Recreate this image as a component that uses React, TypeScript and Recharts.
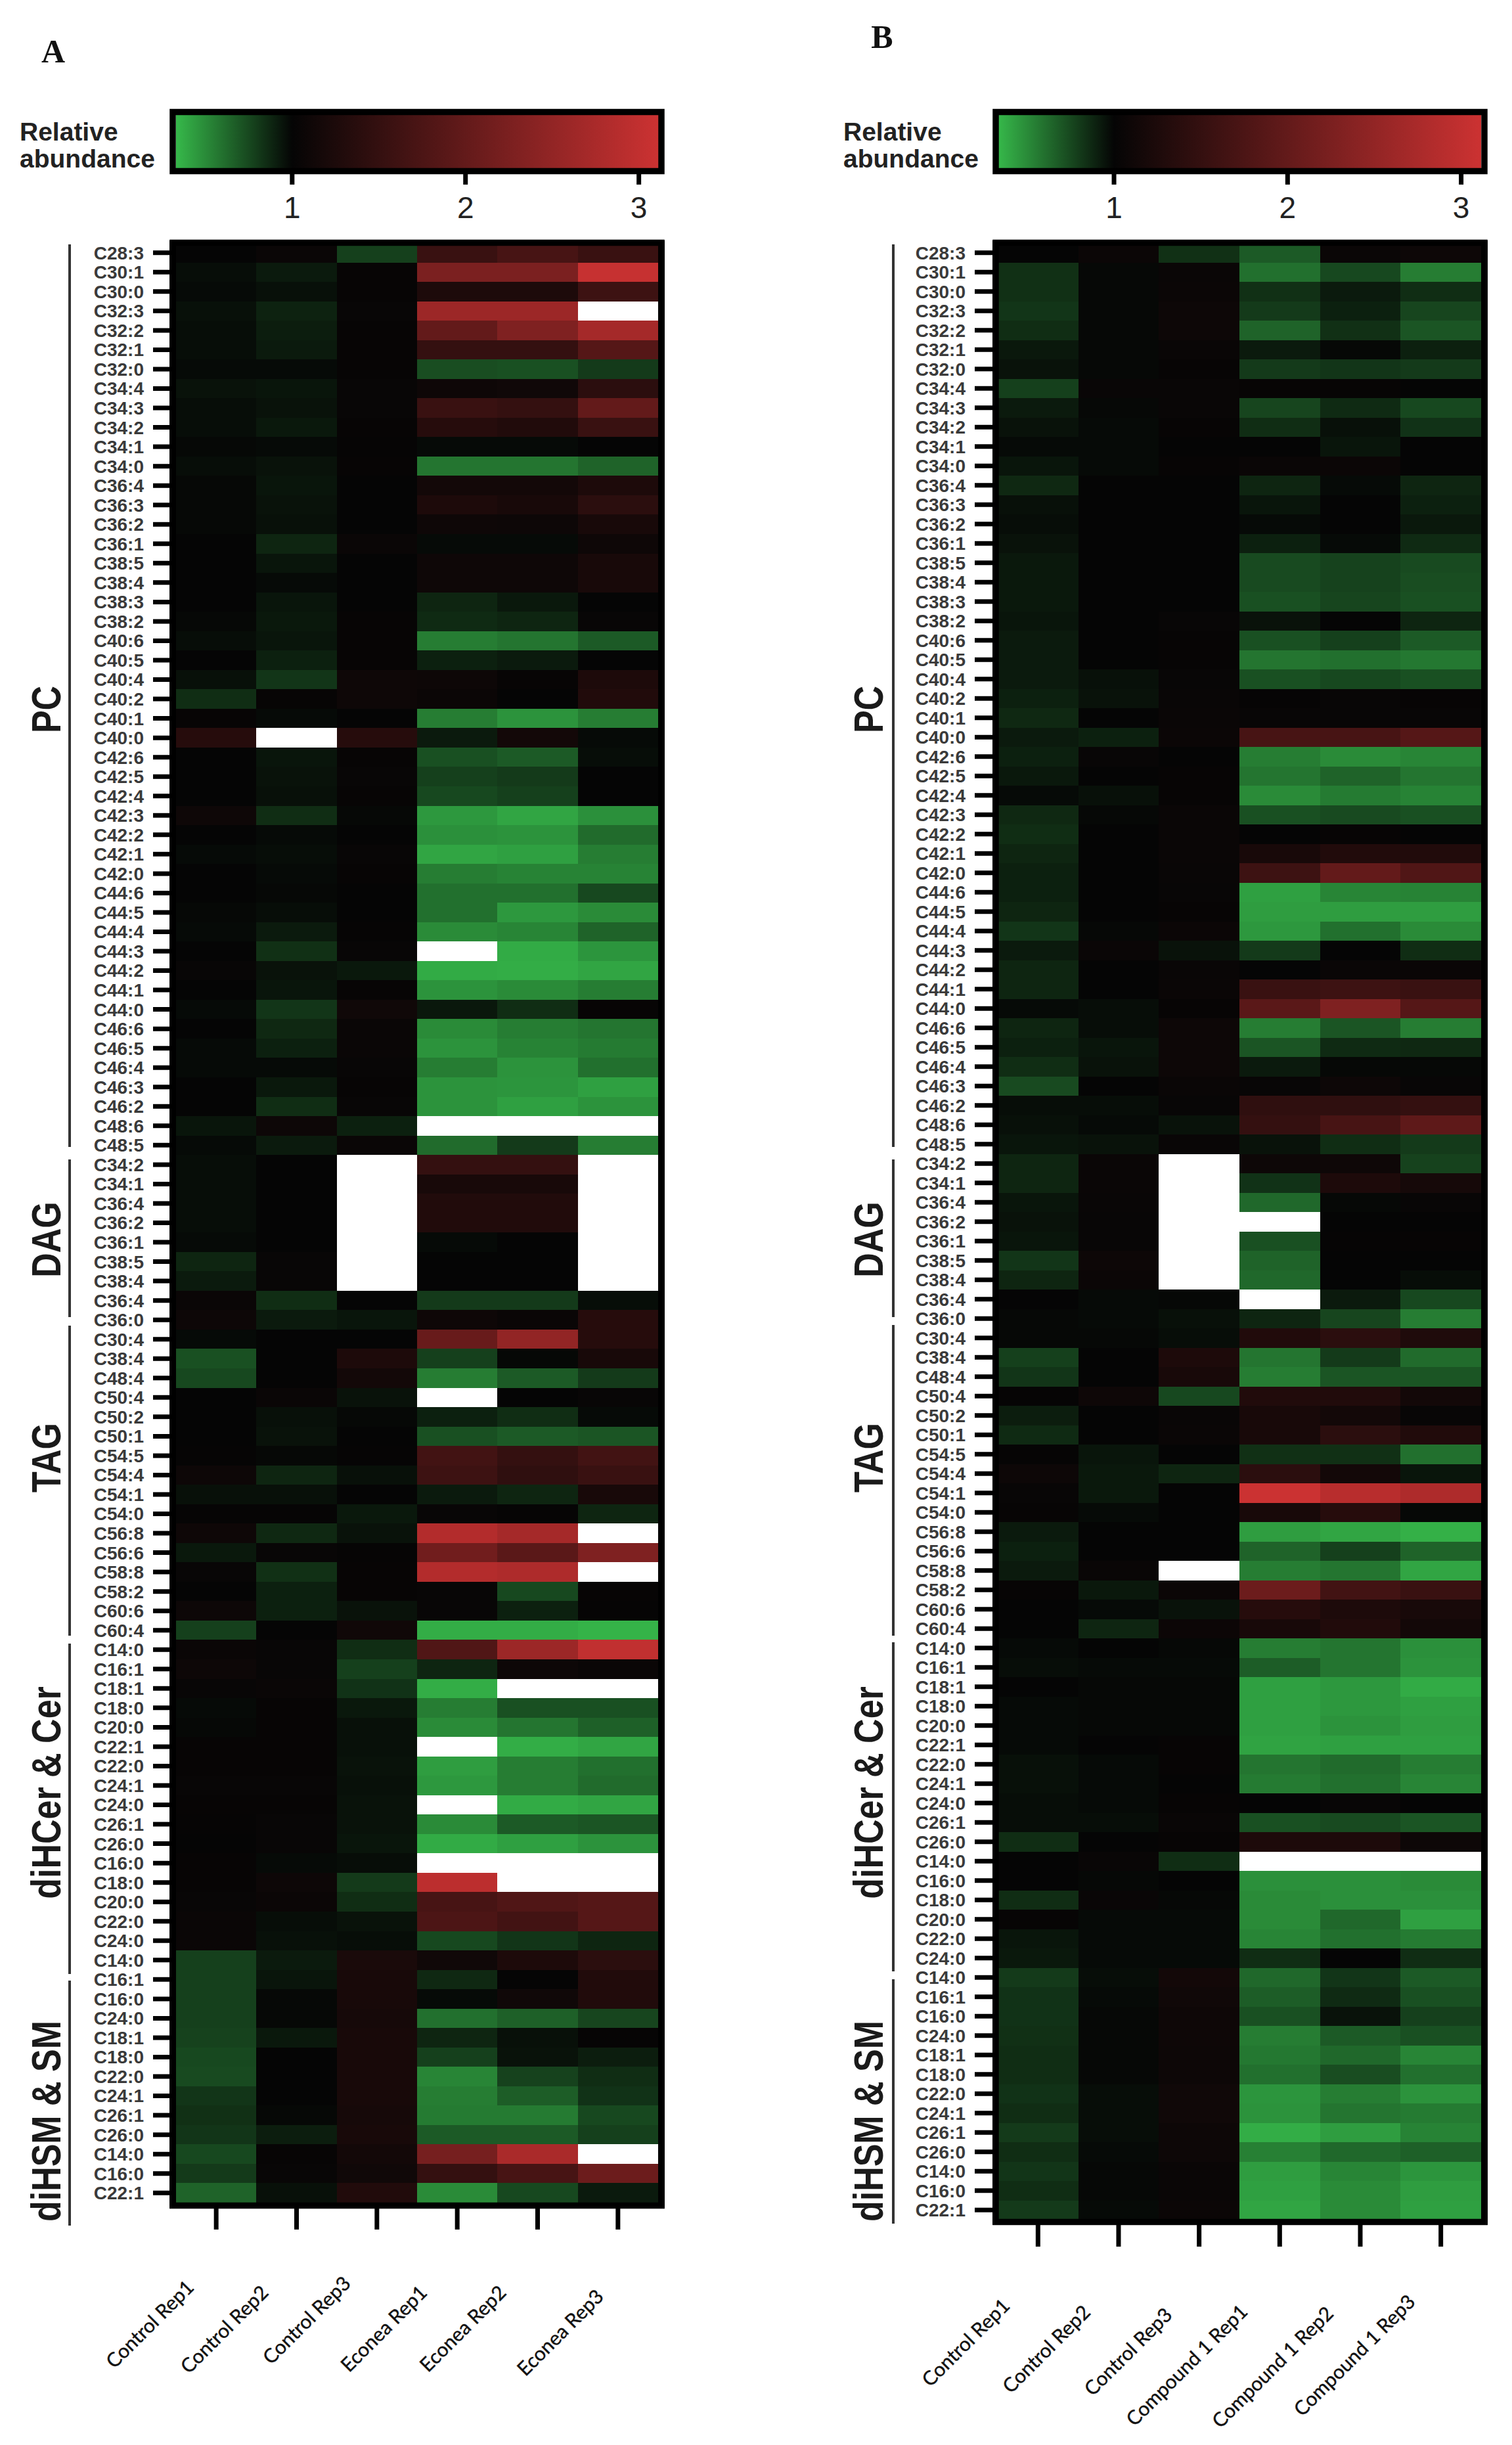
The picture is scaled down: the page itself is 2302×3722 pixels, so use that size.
import { Bar, BarChart, Cell, XAxis, YAxis } from "recharts";

type Level = number | null; // null = not detected, drawn white

const pcLabels = ["C28:3","C30:1","C30:0","C32:3","C32:2","C32:1","C32:0","C34:4","C34:3","C34:2","C34:1","C34:0","C36:4","C36:3","C36:2","C36:1","C38:5","C38:4","C38:3","C38:2","C40:6","C40:5","C40:4","C40:2","C40:1","C40:0","C42:6","C42:5","C42:4","C42:3","C42:2","C42:1","C42:0","C44:6","C44:5","C44:4","C44:3","C44:2","C44:1","C44:0","C46:6","C46:5","C46:4","C46:3","C46:2","C48:6","C48:5"];
const dagLabels = ["C34:2","C34:1","C36:4","C36:2","C36:1","C38:5","C38:4","C36:4","C36:0"];
const tagLabels = ["C30:4","C38:4","C48:4","C50:4","C50:2","C50:1","C54:5","C54:4","C54:1","C54:0","C56:8","C56:6","C58:8","C58:2","C60:6","C60:4"];
const cerLabelsA = ["C14:0","C16:1","C18:1","C18:0","C20:0","C22:1","C22:0","C24:1","C24:0","C26:1","C26:0","C16:0","C18:0","C20:0","C22:0","C24:0"];
const cerLabelsB = ["C14:0","C16:1","C18:1","C18:0","C20:0","C22:1","C22:0","C24:1","C24:0","C26:1","C26:0","C14:0","C16:0","C18:0","C20:0","C22:0","C24:0"];
const smLabels = ["C14:0","C16:1","C16:0","C24:0","C18:1","C18:0","C22:0","C24:1","C26:1","C26:0","C14:0","C16:0","C22:1"];

const samplesA = ["Control Rep1","Control Rep2","Control Rep3","Econea Rep1","Econea Rep2","Econea Rep3"];
const samplesB = ["Control Rep1","Control Rep2","Control Rep3","Compound 1 Rep1","Compound 1 Rep2","Compound 1 Rep3"];

const pcA: Level[][] = [
  [1,1.05,.78,1.55,1.7,1.55],[.97,.92,1.02,2.25,2.25,3.05],[.98,.96,1.02,1.25,1.25,1.6],[.96,.89,1.03,2.6,2.6,null],
  [.97,.91,1.02,2,2.3,2.7],[.97,.92,1.02,1.5,1.5,1.85],[.98,.98,1.02,.73,.72,.8],[.95,.94,1.03,1.1,1.12,1.4],
  [.97,.95,1.03,1.55,1.5,2],[.97,.93,1.02,1.35,1.3,1.55],[.99,.98,1.01,.98,.98,1],[.97,.95,1.02,.58,.58,.65],
  [.99,.94,1,1.15,1.15,1.25],[.99,.95,1,1.25,1.2,1.4],[.99,.96,1,1.1,1.08,1.2],[1,.88,1.05,.98,.98,1.1],
  [1,.94,1,1.1,1.1,1.2],[1,.98,1,1.1,1.1,1.2],[1,.94,1,.88,.93,1],[.99,.93,1.02,.86,.88,1.03],
  [.97,.94,1.02,.55,.58,.68],[1,.9,1.02,.9,.92,1],[.96,.82,1.1,1.08,1.02,1.25],[.85,1.02,1.1,1.06,1,1.3],
  [1.02,.98,1,.55,.47,.55],[1.35,null,1.35,.92,1.15,.98],[1,.94,1.02,.72,.68,.97],[1,.95,1.03,.78,.8,1],
  [1,.96,1.02,.75,.78,1],[1.1,.85,.99,.45,.4,.48],[1,.98,1,.48,.47,.62],[.98,.97,1.03,.4,.42,.55],
  [1,.98,1.02,.55,.53,.53],[1,.99,1,.6,.6,.75],[.99,.97,1,.6,.45,.5],[.98,.92,1.01,.5,.52,.65],
  [1,.84,1.03,null,.38,.46],[1.03,.95,.93,.38,.37,.4],[1,.94,1.02,.47,.5,.55],[.98,.82,1.12,.93,.85,1.02],
  [1,.87,1.05,.5,.55,.58],[.98,.9,1.05,.47,.53,.56],[.98,.98,1.03,.55,.47,.6],[1,.93,1.02,.47,.46,.42],
  [1,.85,1.03,.47,.42,.47],[.94,1.08,.9,null,null,null],[.98,.92,1.05,.62,.8,.55],
];
const dagA: Level[][] = [
  [.97,1,null,1.5,1.5,null],[.97,1,null,1.2,1.2,null],[.97,1,null,1.3,1.3,null],[.97,1,null,1.3,1.3,null],
  [.98,1,null,.98,1,null],[.88,1.03,null,1,1,null],[.92,1.03,null,1,1,null],[1.05,.85,1,.8,.8,.97],[1.08,.92,.94,1.1,1.05,1.35],
];
const tagA: Level[][] = [
  [.98,1,1,2.05,2.5,1.35],[.72,1,1.25,.78,.99,1.2],[.75,1,1.15,.55,.68,.8],[1,1.05,.95,null,1,1.03],
  [1,.96,.99,.9,.85,.98],[1,.95,1,.72,.68,.7],[1.01,.99,1.01,1.65,1.5,1.65],[1.08,.88,.96,1.6,1.45,1.55],
  [.96,.96,1,.92,.88,1.2],[1.01,1.01,.93,1.03,1.01,.88],[1.1,.87,.95,2.85,2.7,null],[.93,1.03,1.01,2.15,1.9,2.3],
  [1.03,.84,1.02,2.85,2.8,null],[1,.9,1.02,1.03,.75,1.02],[1.08,.9,.95,1.03,.9,1.01],[.78,1,1.12,.37,.37,.35],
];
const cerA: Level[][] = [
  [1.05,1.03,.85,1.8,2.6,3],[1.08,1.03,.78,.88,1.08,1.05],[1.03,1.05,.83,.37,null,null],[.98,1.02,.93,.55,.72,.72],
  [.99,1.02,.96,.5,.58,.66],[1.02,1.02,.96,null,.37,.4],[1.02,1.02,.95,.43,.55,.6],[1.03,1.03,.96,.45,.55,.62],
  [1.02,1.02,.95,null,.38,.4],[1.01,1.03,.95,.5,.68,.7],[1,1.03,.94,.38,.42,.47],[1.02,.98,.97,null,null,null],
  [1.02,1.08,.8,2.95,null,null],[1.03,1.06,.85,1.7,1.8,1.85],[1.05,.97,.95,1.75,1.65,1.85],[1.05,.96,.97,.75,.82,.88],
];
const smA: Level[][] = [
  [.78,.92,1.22,1.12,1.25,1.4],[.78,.94,1.2,.87,1,1.3],[.78,.99,1.2,.98,1.12,1.3],[.78,.99,1.18,.6,.66,.76],
  [.77,.93,1.2,.88,.96,1.01],[.75,1,1.2,.78,.95,.91],[.74,1,1.2,.52,.77,.85],[.82,1,1.2,.55,.67,.83],
  [.84,.99,1.18,.56,.56,.75],[.82,.91,1.2,.68,.68,.78],[.75,1.02,1.15,2.2,2.75,null],[.8,1.03,1.12,1.5,1.7,2.1],
  [.65,.96,1.3,.5,.75,.92],
];

const pcB: Level[][] = [
  [1,1.06,.84,.68,1.05,1.08],[.84,.99,1.05,.6,.75,.55],[.84,.99,1.06,.84,.92,.85],[.82,.99,1.08,.8,.9,.76],
  [.85,.99,1.08,.65,.84,.7],[.93,.99,1.04,.92,.99,.9],[.95,.99,1.02,.8,.82,.8],[.78,1.04,1.04,1.02,1.02,1],
  [.92,.99,1.04,.76,.86,.75],[.95,.98,1.02,.85,.96,.83],[.98,.98,1,1,.94,1],[.94,.98,1.02,1.05,1.06,1],
  [.87,1,1,.88,.98,.88],[.96,1,1,.94,1,.9],[.97,1,1,.98,1,.93],[.95,1,1,.9,.98,.86],
  [.93,1,1,.74,.77,.74],[.93,1,1,.74,.77,.73],[.93,1,1,.72,.76,.72],[.94,1,1.03,.95,1,.88],
  [.92,1,1.02,.72,.78,.68],[.92,1,1.02,.58,.6,.57],[.92,.96,1.03,.72,.75,.72],[.9,.95,1.04,1.01,1.03,1.02],
  [.87,1,1.05,1.03,1.03,1.03],[.92,.9,1.06,1.7,1.7,1.85],[.9,1.03,1,.55,.5,.52],[.93,1,1.02,.58,.65,.58],
  [.98,.96,1.02,.5,.56,.53],[.87,.99,1.05,.72,.74,.72],[.85,1,1.05,1,1.02,1],[.88,1,1.05,1.2,1.3,1.3],
  [.9,1,1.04,1.6,2,1.8],[.9,1,1.03,.42,.52,.53],[.88,1,1.02,.43,.43,.43],[.82,.99,1.06,.45,.6,.5],
  [.92,1.05,.95,.8,1,.85],[.88,1,1.04,1,1.05,1.05],[.88,1,1.05,1.55,1.6,1.55],[.98,.97,1.02,1.9,2.3,1.85],
  [.88,.97,1.08,.55,.7,.55],[.9,.94,1.08,.7,.86,.87],[.85,.95,1.08,.92,.99,.99],[.74,1,1.05,1.03,1.08,1.03],
  [.97,.97,1.03,1.45,1.45,1.5],[.96,.98,.95,1.5,1.7,1.95],[.94,.95,1.04,.95,.85,.8],
];
const dagB: Level[][] = [
  [.88,1.05,null,1.08,1.1,.77],[.88,1.05,null,.83,1.25,1.18],[.94,1.04,null,.63,.99,1.03],[.95,1.03,null,null,1,1],
  [.94,1.03,null,.72,1.01,1.02],[.82,1.08,null,.65,1,1],[.88,1.06,null,.63,1,.97],[1,.98,.99,null,.92,.75],[.99,.98,.96,.88,.76,.55],
];
const tagB: Level[][] = [
  [.99,.99,.97,1.3,1.4,1.28],[.78,1,1.25,.58,.8,.62],[.82,1,1.2,.55,.7,.7],[1.01,1.1,.75,1.3,1.3,1.15],
  [.91,1,1.04,1.2,1.15,1.03],[.86,1,1.05,1.2,1.4,1.3],[1.01,.94,1,.84,.84,.6],[1.08,.93,.88,1.4,1.15,.94],
  [1.03,.93,1,3.1,2.9,2.8],[1.02,.98,1,1.2,1.35,.99],[.92,1,1,.43,.4,.36],[.9,1,1,.65,.78,.65],
  [.92,1.04,null,.55,.58,.4],[1.02,.93,1.06,2.1,1.65,1.55],[1,.98,.95,1.35,1.25,1.2],[1,.88,1.07,1.2,1.3,1.15],
];
const cerB: Level[][] = [
  [.98,1,.99,.55,.58,.48],[.97,.98,.98,.67,.58,.47],[1,.99,.99,.42,.45,.38],[.98,.99,.99,.42,.45,.42],
  [.98,.99,.99,.42,.47,.43],[.98,1,1.02,.41,.42,.42],[.96,.98,1.02,.58,.62,.55],[.96,.98,1,.56,.6,.52],
  [.97,.98,1.02,1,1.03,1],[.97,.97,1.04,.72,.74,.7],[.85,1,1.02,1.25,1.25,1.08],[1,1.04,.85,null,null,null],
  [1,.99,1,.48,.48,.5],[.85,1.04,.99,.5,.48,.48],[1.02,.98,.98,.5,.63,.42],[.94,.98,.98,.52,.6,.56],[.93,.98,.98,.85,1,.85],
];
const smB: Level[][] = [
  [.8,.97,1.15,.63,.82,.68],[.83,.98,1.12,.67,.86,.72],[.83,.99,1.1,.72,.95,.78],[.84,.99,1.1,.55,.68,.72],
  [.85,.99,1.08,.57,.63,.52],[.85,.99,1.08,.6,.73,.6],[.83,.97,1.12,.46,.55,.47],[.85,.97,1.12,.47,.58,.56],
  [.8,.97,1.08,.37,.43,.53],[.85,.98,1.08,.54,.63,.66],[.82,.99,1.05,.43,.52,.46],[.85,.99,1.05,.42,.5,.43],[.8,.98,1.06,.4,.5,.42],
];

const scaleTicks = [1, 2, 3];

// colour scale, green -> black at 1 -> red
const LOW = [54, 184, 74];
const MID = [5, 5, 5];
const HIGH = [204, 50, 50];
const scaleMin = 0.33;
const scaleMax = 3.115;

function mix(a: number[], b: number[], t: number) {
  const c = a.map((v, i) => Math.round(v + (b[i] - v) * t));
  return `rgb(${c[0]},${c[1]},${c[2]})`;
}

function levelColor(v: Level) {
  if (v === null) return "#ffffff";
  if (v <= 1) return mix(MID, LOW, Math.min(1, (1 - v) / (1 - scaleMin)));
  return mix(MID, HIGH, Math.min(1, (v - 1) / (scaleMax - 1)));
}

const FONT = "'Liberation Sans', Arial, sans-serif";
const COLUMNS = [0, 1, 2, 3, 4, 5];

function XTick({ x, y, payload, index, samples, nudge }: any) {
  const tx = x + nudge[index][0];
  const ty = y + nudge[index][1];
  return (
    <text
      x={tx}
      y={ty}
      transform={`rotate(-45 ${tx} ${ty})`}
      textAnchor="end"
      fontFamily="Lato, sans-serif"
      fontSize={30}
      fill="#111"
      stroke="#111"
      strokeWidth={0.4}
    >
      {samples[Math.floor(payload.value)]}
    </text>
  );
}

function Heatmap({ left, plotLeft, plotRight, plotBottom, labels, rows, samples, nudge }: any) {
  const width = 1040;
  const table = rows.map((r: Level[], i: number) => ({
    row: i,
    label: labels[i],
    span0: 1, span1: 1, span2: 1, span3: 1, span4: 1, span5: 1,
  }));
  return (
    <div style={{ position: "absolute", left, top: 0 }}>
      <BarChart
        width={width}
        height={3722}
        data={table}
        layout="vertical"
        barCategoryGap={0}
        barGap={0}
        margin={{ top: 370, right: width - (plotRight - left), bottom: 3722 - plotBottom - 300, left: 0 }}
      >
        <XAxis
          type="number"
          domain={[0, 6]}
          ticks={[0.5, 1.5, 2.5, 3.5, 4.5, 5.5]}
          height={300}
          axisLine={false}
          tickSize={41}
          tickLine={{ stroke: "#000", strokeWidth: 7 }}
          tick={<XTick samples={samples} nudge={nudge} />}
        />
        <YAxis
          type="category"
          dataKey="row"
          width={plotLeft - left}
          interval={0}
          axisLine={false}
          tickSize={35}
          tickMargin={14}
          tickLine={{ stroke: "#000", strokeWidth: 7 }}
          tickFormatter={(i: number) => labels[i]}
          tick={{ fontFamily: FONT, fontSize: 28, fontWeight: 700, fill: "#3a3a3a" }}
        />
        {COLUMNS.map((c) => (
          <Bar key={c} dataKey={`span${c}`} stackId="cells" shapeRendering="crispEdges" isAnimationActive={false}>
            {rows.map((r: Level[], i: number) => (
              <Cell key={i} fill={levelColor(r[c])} />
            ))}
          </Bar>
        ))}
      </BarChart>
    </div>
  );
}

function ColorBar({ id, left, right }: any) {
  const pct = (v: number) => `${((v - scaleMin) / (scaleMax - scaleMin)) * 100}%`;
  return (
    <div style={{ position: "absolute", left, top: 148 }}>
      <BarChart
        width={right - left}
        height={212}
        data={[{ name: "scale", top: scaleMax }]}
        layout="vertical"
        barCategoryGap={0}
        margin={{ top: 0, right: 0, bottom: 0, left: 0 }}
      >
        <defs>
          <linearGradient id={id} x1="0" y1="0" x2="1" y2="0">
            <stop offset="0%" stopColor={levelColor(scaleMin)} />
            <stop offset={pct(1)} stopColor={levelColor(1)} />
            <stop offset="100%" stopColor={levelColor(scaleMax)} />
          </linearGradient>
        </defs>
        <XAxis
          xAxisId="bottom"
          type="number"
          domain={[scaleMin, scaleMax]}
          ticks={scaleTicks}
          height={104}
          axisLine={false}
          tickSize={25}
          tickMargin={18}
          tickLine={{ stroke: "#000", strokeWidth: 7 }}
          tick={{ fontFamily: FONT, fontSize: 46, fill: "#222" }}
        />
        <XAxis
          xAxisId="top"
          orientation="top"
          type="number"
          domain={[scaleMin, scaleMax]}
          ticks={scaleTicks}
          height={26}
          axisLine={false}
          tickSize={26}
          tick={false}
          tickLine={{ stroke: "#000", strokeWidth: 7 }}
        />
        <YAxis type="category" dataKey="name" hide />
        <Bar xAxisId="bottom" dataKey="top" fill={`url(#${id})`} isAnimationActive={false} />
      </BarChart>
    </div>
  );
}

function Rotated({ x, y, size, children }: any) {
  return (
    <text
      transform={`translate(${x} ${y}) rotate(-90) scale(1 1.2)`}
      textAnchor="middle"
      dominantBaseline="central"
      fontFamily={FONT}
      fontSize={size}
      fontWeight={700}
      fill="#1a1a1a"
    >
      {children}
    </text>
  );
}

function Frame({ x0, x1, y0, y1 }: any) {
  return <rect x={x0 + 5} y={y0 + 4.5} width={x1 - x0 - 10} height={y1 - y0 - 9} fill="none" stroke="#000" strokeWidth={9.5} />;
}

function StackedTitle({ x }: any) {
  return (
    <g fontFamily={FONT} fontWeight={700} fontSize={39} fill="#222">
      <text x={x} y={214}>Relative</text>
      <text x={x} y={255}>abundance</text>
    </g>
  );
}

const groupNames = ["PC", "DAG", "TAG", "diHCer & Cer", "diHSM & SM"];
const groupY = [1080, 1887, 2219, 2729, 3229];
const bracketsA = [[372, 1746], [1765, 2005], [2018, 2490], [2502, 3005], [3015, 3388]];
const bracketsB = [[372, 1746], [1765, 2005], [2017, 2490], [2500, 3001], [3013, 3385]];

const nudgeA = [[-32, 88], [-41, 96], [-38, 82], [-44, 96], [-46, 96], [-20, 102]];
const nudgeB = [[-41, 90], [-41, 100], [-39, 104], [-47, 99], [-39, 102], [-37, 84]];

export default function App() {
  const labelsA = [...pcLabels, ...dagLabels, ...tagLabels, ...cerLabelsA, ...smLabels];
  const labelsB = [...pcLabels, ...dagLabels, ...tagLabels, ...cerLabelsB, ...smLabels];
  const rowsA = [...pcA, ...dagA, ...tagA, ...cerA, ...smA];
  const rowsB = [...pcB, ...dagB, ...tagB, ...cerB, ...smB];

  return (
    <div style={{ position: "absolute", left: 0, top: 0, width: 2302, height: 3722, background: "#fff", overflow: "hidden" }}>
      <svg width={2302} height={3722} style={{ position: "absolute", left: 0, top: 0 }}>
        <rect x={258} y={366} width={754} height={2996} fill="#000" />
        <rect x={1511} y={366} width={754} height={3021} fill="#000" />
      </svg>

      <Heatmap left={0} plotLeft={268} plotRight={1002} plotBottom={3353} labels={labelsA} rows={rowsA} samples={samplesA} nudge={nudgeA} />
      <Heatmap left={1260} plotLeft={1519} plotRight={2255} plotBottom={3379} labels={labelsB} rows={rowsB} samples={samplesB} nudge={nudgeB} />
      <ColorBar id="scaleA" left={268} right={1003} />
      <ColorBar id="scaleB" left={1519} right={2255} />

      <svg width={2302} height={3722} style={{ position: "absolute", left: 0, top: 0, pointerEvents: "none" }}>
        <text x={81} y={95} textAnchor="middle" fontFamily="'Liberation Serif', serif" fontWeight={700} fontSize={50} fill="#111">A</text>
        <text x={1343} y={73} textAnchor="middle" fontFamily="'Liberation Serif', serif" fontWeight={700} fontSize={50} fill="#111">B</text>

        <StackedTitle x={30} />
        <StackedTitle x={1284} />

        <Frame x0={258} x1={1012} y0={166} y1={265} />
        <Frame x0={1511} x1={2265} y0={166} y1={265} />
        <Frame x0={258} x1={1012} y0={365} y1={3362} />
        <Frame x0={1511} x1={2265} y0={365} y1={3387} />

        {bracketsA.map(([a, b], i) => (
          <line key={i} x1={106} x2={106} y1={a} y2={b} stroke="#333" strokeWidth={4} />
        ))}
        {bracketsB.map(([a, b], i) => (
          <line key={i} x1={1360} x2={1360} y1={a} y2={b} stroke="#333" strokeWidth={4} />
        ))}
        {groupNames.map((name, i) => (
          <Rotated key={name} x={70} y={groupY[i]} size={52}>{name}</Rotated>
        ))}
        {groupNames.map((name, i) => (
          <Rotated key={name} x={1322} y={groupY[i]} size={52}>{name}</Rotated>
        ))}
      </svg>
    </div>
  );
}
